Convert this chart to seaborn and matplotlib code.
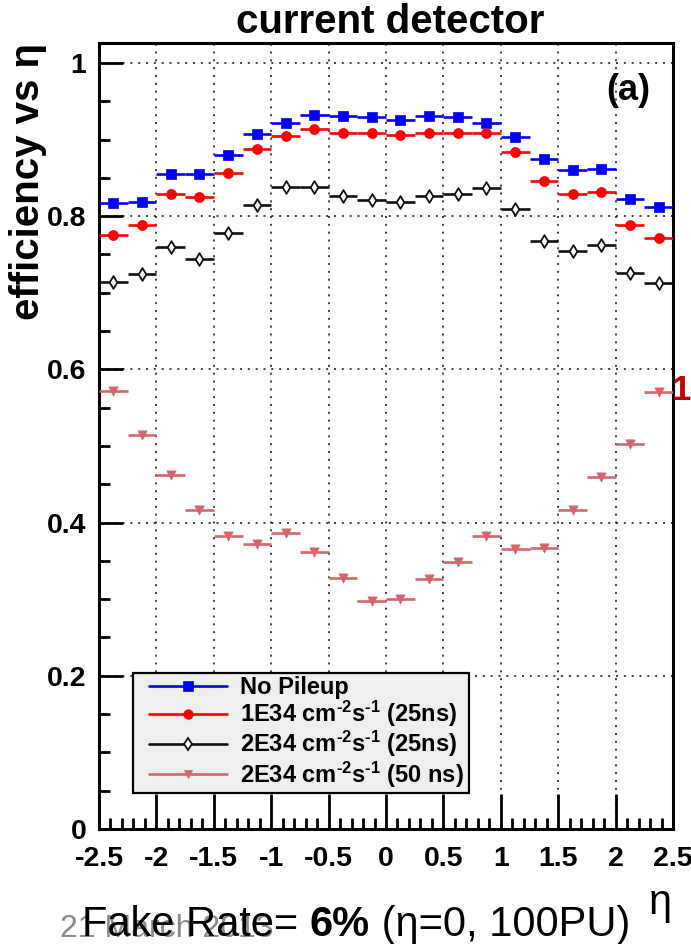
import numpy as np
import pandas as pd
import matplotlib
matplotlib.use("Agg")
import matplotlib.pyplot as plt
from matplotlib.lines import Line2D
from matplotlib.patches import Rectangle
from matplotlib.ticker import MultipleLocator, FixedLocator
import seaborn as sns

# Eta bin centres (bin width 0.25)
eta = [-2.375, -2.125, -1.875, -1.625, -1.375, -1.125, -0.875, -0.625, -0.375, -0.125,
       0.125, 0.375, 0.625, 0.875, 1.125, 1.375, 1.625, 1.875, 2.125, 2.375]
half_width = 0.125

eff_no_pu = [0.817, 0.819, 0.855, 0.855, 0.880, 0.907, 0.922, 0.932, 0.931, 0.929,
             0.926, 0.931, 0.929, 0.922, 0.903, 0.875, 0.860, 0.861, 0.823, 0.812]
eff_1e34_25 = [0.775, 0.789, 0.829, 0.825, 0.856, 0.888, 0.905, 0.914, 0.909, 0.908,
               0.906, 0.909, 0.909, 0.908, 0.884, 0.846, 0.829, 0.832, 0.789, 0.772]
eff_2e34_25 = [0.714, 0.724, 0.760, 0.744, 0.778, 0.815, 0.838, 0.838, 0.826, 0.821,
               0.819, 0.826, 0.829, 0.837, 0.809, 0.768, 0.755, 0.762, 0.726, 0.713]
eff_2e34_50 = [0.572, 0.514, 0.462, 0.416, 0.383, 0.372, 0.386, 0.362, 0.327, 0.298,
               0.300, 0.326, 0.349, 0.383, 0.366, 0.367, 0.416, 0.460, 0.502, 0.571]

labels = ["No Pileup",
          r"1E34 cm$^{\text{-2}}$s$^{\text{-1}}$ (25ns)",
          r"2E34 cm$^{\text{-2}}$s$^{\text{-1}}$ (25ns)",
          r"2E34 cm$^{\text{-2}}$s$^{\text{-1}}$ (50 ns)"]
x_ticks = [-2.5, -2, -1.5, -1, -0.5, 0, 0.5, 1, 1.5, 2, 2.5]
x_tick_labels = ["-2.5", "-2", "-1.5", "-1", "-0.5", "0", "0.5", "1", "1.5", "2", "2.5"]
y_ticks = [0, 0.2, 0.4, 0.6, 0.8, 1.0]
y_tick_labels = ["0", "0.2", "0.4", "0.6", "0.8", "1"]

series = [eff_no_pu, eff_1e34_25, eff_2e34_25, eff_2e34_50]
colors = ["#0000ff", "#ff0000", "#111111", "#d6666c"]
markers = ["s", "o", "d", "v"]
faces = ["#0000ff", "#ff0000", "white", "#d6666c"]
sizes = [48, 52, 42, 44]

df = pd.concat(
    [pd.DataFrame({"eta": eta, "eff": vals, "series": lab})
     for vals, lab in zip(series, labels)],
    ignore_index=True)

sns.set_theme(style="white")
plt.rcParams["font.family"] = ["Liberation Sans", "DejaVu Sans"]
plt.rcParams["text.color"] = "black"
plt.rcParams["axes.labelcolor"] = "black"
plt.rcParams["xtick.color"] = "black"
plt.rcParams["ytick.color"] = "black"
plt.rcParams["mathtext.fontset"] = "custom"
plt.rcParams["mathtext.rm"] = "Liberation Sans:bold"
plt.rcParams["mathtext.bf"] = "Liberation Sans:bold"
plt.rcParams["mathtext.default"] = "bf"

fig = plt.figure(figsize=(6.91, 9.44), dpi=100)
ax = fig.add_axes([99 / 691, 115 / 944, 574 / 691, 786 / 944])

handles = []
for lab, col, mk, fc, sz in zip(labels, colors, markers, faces, sizes):
    sub = df[df["series"] == lab]
    ax.errorbar(sub["eta"], sub["eff"], xerr=half_width, fmt="none",
                ecolor=col, elinewidth=1.9, capsize=0, zorder=3)
    sns.scatterplot(data=sub, x="eta", y="eff", ax=ax, marker=mk, s=sz,
                    color=fc, edgecolor=col, linewidth=1.3 if mk == "d" else 0.5,
                    legend=False, zorder=4)
    handles.append(Line2D([0], [0], color=col, lw=1.9, marker=mk,
                          markersize=np.sqrt(sz) * 0.95, markerfacecolor=fc,
                          markeredgecolor=col, markeredgewidth=1.3 if mk == "d" else 0.5))

ax.set_xlim(-2.5, 2.5)
ax.set_ylim(0, 1.026)
ax.set_xlabel("")
ax.set_ylabel("")

ax.xaxis.set_major_locator(FixedLocator(x_ticks))
ax.set_xticklabels(x_tick_labels)
ax.xaxis.set_minor_locator(MultipleLocator(0.1))
ax.yaxis.set_major_locator(FixedLocator(y_ticks))
ax.set_yticklabels(y_tick_labels)
ax.yaxis.set_minor_locator(MultipleLocator(0.05))

ax.tick_params(axis="both", which="major", direction="in", length=17, width=2,
               labelsize=20.5, pad=9, color="black", labelcolor="black",
               bottom=True, left=True)
ax.tick_params(axis="x", which="major", length=25, pad=12)
ax.tick_params(axis="both", which="minor", direction="in", length=8, width=2,
               bottom=True, left=True)
for lbl in ax.get_xticklabels() + ax.get_yticklabels():
    lbl.set_fontweight("bold")

ax.grid(True, which="major", color="#222222", linestyle=(0, (1.2, 3.5)), linewidth=1.2)
for sp in ax.spines.values():
    sp.set_color("black")
    sp.set_linewidth(2.2)

# Legend box drawn as a patch, entries placed inside it
ax.add_patch(Rectangle((34 / 574, 36 / 786), 336 / 574, 120 / 786,
                       transform=ax.transAxes, facecolor="#eeeeee",
                       edgecolor="black", linewidth=1.6, zorder=5))
leg = ax.legend(handles, labels, loc="upper left",
                bbox_to_anchor=(50 / 574, 153 / 786),
                fontsize=17, handlelength=3.3, handletextpad=0.55,
                labelspacing=0.0, borderpad=0, borderaxespad=0, frameon=False)
leg.set_zorder(6)
for t in leg.get_texts():
    t.set_fontweight("bold")

# Titles and annotations
fig.text(390 / 691, 1 - 22 / 944, "current detector", ha="center", va="center",
         fontsize=29, fontweight="bold")
fig.text(28 / 691, 1 - 43 / 944, "efficiency vs η", rotation=90, ha="center",
         va="top", fontsize=29, fontweight="bold")
fig.text(628 / 691, 1 - 90 / 944, "(a)", ha="center", va="center", fontsize=26,
         fontweight="bold")
fig.text(672 / 691, 1 - 390 / 944, "1", ha="left", va="center", fontsize=25,
         fontweight="bold", color="#c00000")
fig.text(660 / 691, 1 - 903 / 944, "η", ha="center", va="center", fontsize=30)

# Footer line with mixed weights
fig.text(60 / 691, 1 - 937 / 944, "21 March 2013", ha="left", va="baseline",
         fontsize=23, color="#8c8c8c", zorder=1)
fig.canvas.draw()
renderer = fig.canvas.get_renderer()
x0 = 82 / 691
y0 = 1 - 936 / 944
for piece, weight in [("Fake Rate= ", "normal"), ("6%", "bold"), (" (η=0, 100PU)", "normal")]:
    t = fig.text(x0, y0, piece, ha="left", va="baseline", fontsize=30,
                 fontweight=weight, color="black", zorder=2)
    bb = t.get_window_extent(renderer=renderer)
    x0 = fig.transFigure.inverted().transform((bb.x1, bb.y0))[0]

fig.savefig("out.png", dpi=100)
